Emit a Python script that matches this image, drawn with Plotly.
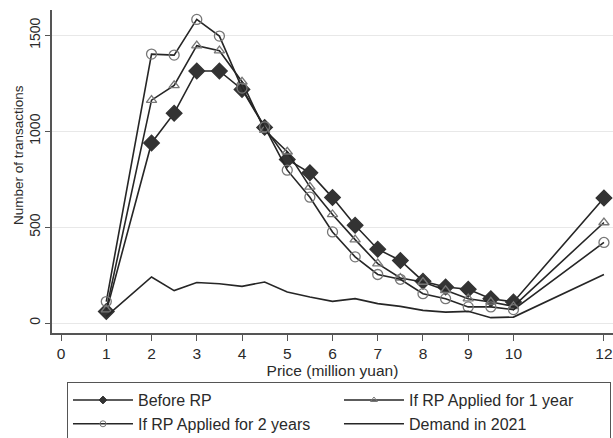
import plotly.graph_objects as go

price = [1, 2, 2.5, 3, 3.5, 4, 4.5, 5, 5.5, 6, 6.5, 7, 7.5, 8, 8.5, 9, 9.5, 10, 12]
before_rp = [60, 939, 1094, 1314, 1314, 1218, 1020, 853, 783, 654, 510, 385, 326, 218, 188, 176, 127, 110, 652]
rp_1year = [70, 1162, 1239, 1446, 1420, 1258, 1006, 893, 710, 566, 435, 310, 235, 214, 171, 127, 110, 87, 524]
rp_2years = [112, 1402, 1397, 1583, 1496, 1225, 1023, 797, 656, 475, 345, 253, 228, 153, 127, 84, 84, 70, 420]
demand_2021 = [35, 240, 169, 211, 205, 191, 214, 162, 136, 113, 127, 101, 87, 66, 57, 61, 28, 31, 253]

series_names = ["Before RP", "If RP Applied for 1 year", "If RP Applied for 2 years", "Demand in 2021"]

x_tickvals = [0, 1, 2, 3, 4, 5, 6, 7, 8, 9, 10, 12]
y_tickvals = [0, 500, 1000, 1500]

FONT = "Liberation Sans, Arial, sans-serif"
LINE = "#262626"
TXT = "#2a2a2a"

styles = [
    dict(mode="lines+markers", symbol="diamond", size=12, lsize=6, color="#333333"),
    dict(mode="lines+markers", symbol="triangle-up-open", size=9, lsize=6, color="#777777"),
    dict(mode="lines+markers", symbol="circle-open", size=10, lsize=6, color="#777777"),
    dict(mode="lines", symbol=None, size=0, lsize=0, color=None),
]
all_series = [before_rp, rp_1year, rp_2years, demand_2021]

fig = go.Figure()
for name, ys, st in zip(series_names, all_series, styles):
    kw = dict(line=dict(color=LINE, width=1.6), mode=st["mode"])
    if st["symbol"]:
        kw["marker"] = dict(symbol=st["symbol"], size=st["size"], color=st["color"],
                            line=dict(color=st["color"], width=1.3))
    fig.add_trace(go.Scatter(x=price, y=ys, name=name, showlegend=False, **kw))

# legend-only entries with smaller legend symbols
for name, st in zip(series_names, styles):
    kw = dict(line=dict(color=LINE, width=1.6), mode=st["mode"])
    if st["symbol"]:
        kw["marker"] = dict(symbol=st["symbol"], size=st["lsize"], color=st["color"],
                            line=dict(color=st["color"], width=1.0))
    fig.add_trace(go.Scatter(x=[None], y=[None], name=name, showlegend=True, **kw))

fig.update_layout(
    width=613, height=438,
    margin=dict(l=52, r=0, t=10, b=105, autoexpand=False),
    paper_bgcolor="white", plot_bgcolor="white",
    font=dict(family=FONT, size=15, color=TXT),
    showlegend=True,
    legend=dict(
        orientation="h", x=0.0267, y=-0.152, xanchor="left", yanchor="top",
        entrywidth=196, entrywidthmode="pixels", itemwidth=60,
        bordercolor="#555555", borderwidth=1,
        font=dict(family=FONT, size=16, color=TXT),
        tracegroupgap=0,
    ),
    annotations=[dict(
        text="Number of transactions", textangle=-90, showarrow=False,
        xref="paper", yref="paper", x=-0.0606, y=0.551, xanchor="center", yanchor="middle",
        font=dict(family=FONT, size=13.5, color=TXT),
    )],
)
fig.update_xaxes(
    range=[-0.2, 12.2], tickvals=x_tickvals, ticktext=[str(v) for v in x_tickvals],
    showline=True, linecolor="#555555", linewidth=1.5,
    ticks="outside", ticklen=6, tickcolor="#555555", tickwidth=1.3,
    showgrid=False, zeroline=False,
    title=dict(text="Price (million yuan)", standoff=1, font=dict(family=FONT, size=15.5, color=TXT)),
    tickfont=dict(family=FONT, size=15.5, color=TXT),
)
fig.update_yaxes(
    range=[-52, 1632], tickvals=y_tickvals, ticktext=[str(v) for v in y_tickvals],
    tickangle=-90,
    showline=True, linecolor="#555555", linewidth=1.5,
    ticks="outside", ticklen=5, tickcolor="#555555", tickwidth=1.3,
    showgrid=True, gridcolor="#e8e8e8", gridwidth=1, zeroline=False,
    tickfont=dict(family=FONT, size=14, color=TXT),
)

fig.write_html("out.html")
